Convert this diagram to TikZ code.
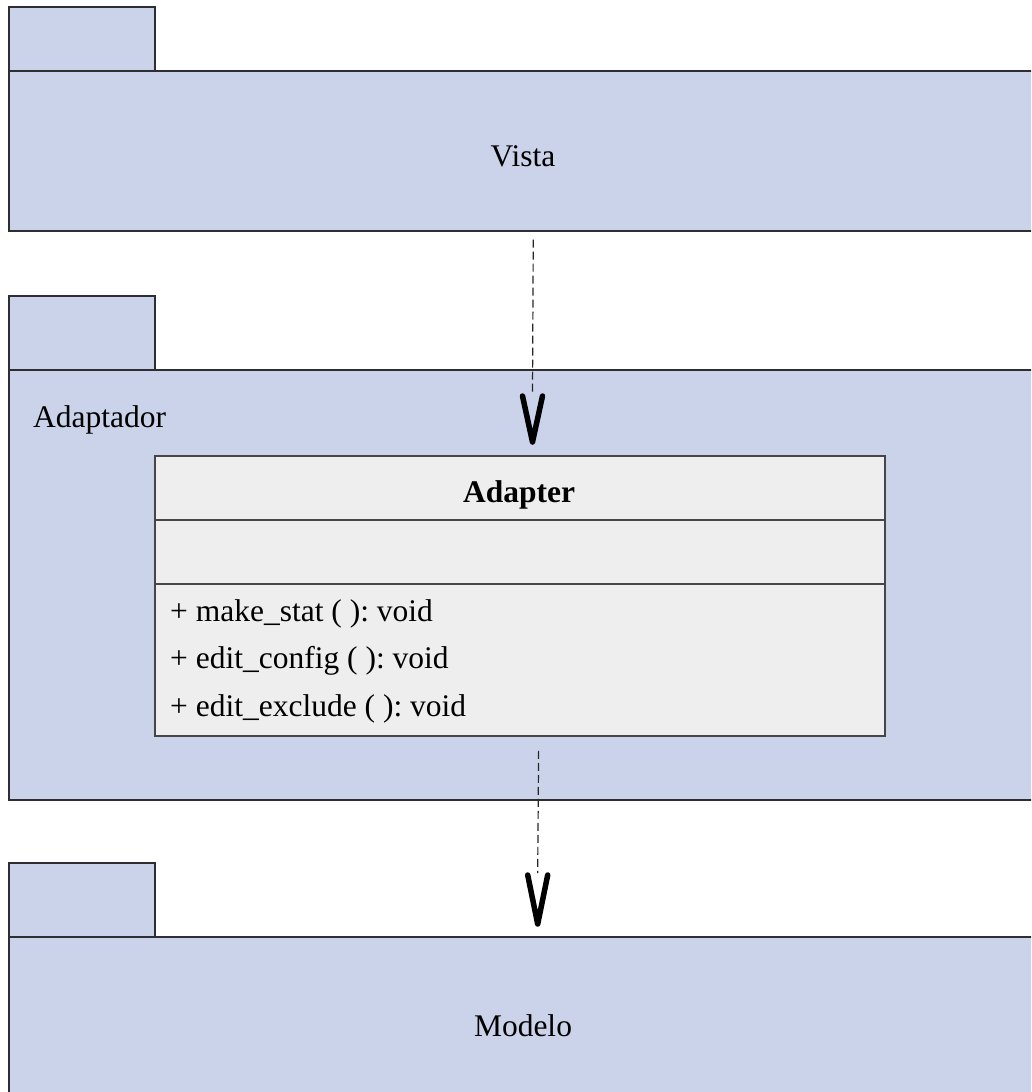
\documentclass[tikz,border=0pt]{standalone}
\usepackage{fontspec}
\setmainfont{Liberation Serif}
\usetikzlibrary{calc}
\definecolor{pkgfill}{RGB}{203,211,235}
\definecolor{pkgline}{RGB}{45,45,50}
\definecolor{clsfill}{RGB}{238,238,238}
\definecolor{clsline}{RGB}{70,70,70}
\begin{document}
\frenchspacing
\begin{tikzpicture}[x=1pt,y=-1pt,
  txt/.style={font=\fontsize{31.5}{38}\selectfont, inner sep=0pt},
  pkgtab/.style={draw=pkgline, fill=pkgfill, line width=1.5pt, anchor=north west,
    inner sep=0pt, minimum width=146pt},
  pkgbody/.style={draw=pkgline, fill=pkgfill, line width=1.5pt, anchor=north west,
    inner sep=0pt, minimum width=1030pt},
  clsbox/.style={draw=clsline, fill=clsfill, line width=1.8pt, anchor=north west,
    inner sep=0pt, minimum width=730pt},
  dep/.style={draw=black!85, line width=1.2pt, dash pattern=on 8pt off 4pt},
  vhead/.style={draw=black, line width=5.5pt, line cap=round, line join=round}
]
\useasboundingbox (0,0) rectangle (1031,1092);
\clip (0,0) rectangle (1031,1092);

% Vista package
\node[pkgtab, minimum height=64pt] (vistatab) at (8,6) {};
\node[pkgbody, minimum height=160pt] (vista) at (8,70) {};
\node[txt, anchor=base] (vistalbl) at (523,166) {Vista};

% Adaptador package
\node[pkgtab, minimum height=74pt] (adaptab) at (8,295) {};
\node[pkgbody, minimum height=430pt] (adap) at (8,369) {};
\node[txt, anchor=base west] (adaplbl) at (33,427) {Adaptador};

% Adapter class
\node[clsbox, minimum height=64pt] (clshead) at (154,455) {};
\node[txt, anchor=base] (clsname) at (519,502) {\bfseries Adapter};
\node[clsbox, minimum height=64pt] (clsattr) at (154,519) {};
\node[clsbox, minimum height=152pt] (clsops) at (154,583) {};
\node[txt, anchor=base west] (op1) at (170,621) {+ make\_stat ( ): void};
\node[txt, anchor=base west] (op2) at (170,668) {+ edit\_config ( ): void};
\node[txt, anchor=base west] (op3) at (170,716) {+ edit\_exclude ( ): void};

% Modelo package
\node[pkgtab, minimum height=74pt] (modtab) at (8,862) {};
\node[pkgbody, minimum height=200pt] (modelo) at (8,936) {};
\node[txt, anchor=base] (modlbl) at (523,1036) {Modelo};

% Dependency: Vista -> Adaptador
\coordinate (d1s) at ($(vista.south)+(9.5,8)$);
\coordinate (d1b) at (532.5,394);
\coordinate (d1t) at (532.5,442);
\draw[dep] (d1s) -- (d1b);
\draw[vhead] ($(d1b)+(-10,2)$) -- (d1t) -- ($(d1b)+(10,2)$);

% Dependency: Adapter -> Modelo
\coordinate (d2s) at ($(clsops.south)+(18.7,14)$);
\coordinate (d2b) at (537.7,873);
\coordinate (d2t) at (537.7,924);
\draw[dep] (d2s) -- (d2b);
\draw[vhead] ($(d2b)+(-10,2)$) -- (d2t) -- ($(d2b)+(10,2)$);
\end{tikzpicture}
\end{document}
